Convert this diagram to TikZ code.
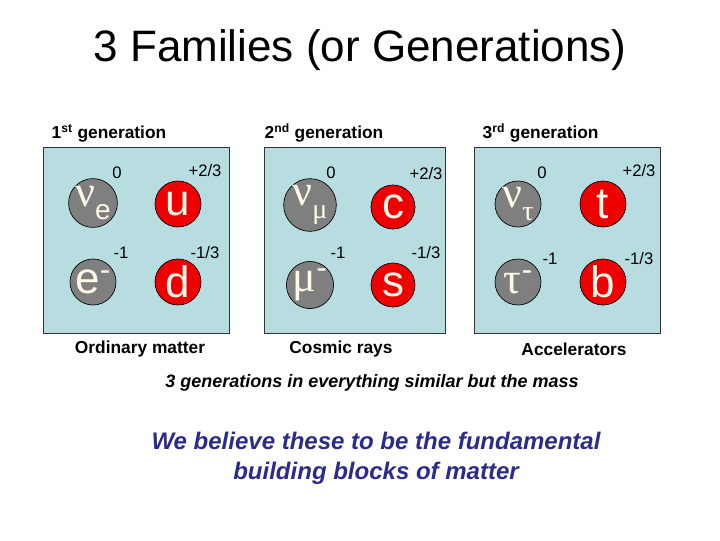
\documentclass[tikz,border=0pt]{standalone}
\usepackage{fontspec}
\setmainfont{Liberation Sans}
\newfontfamily\greekfont{Liberation Serif}
\usetikzlibrary{positioning}
\definecolor{panelblue}{HTML}{B8DDE1}
\definecolor{quarkred}{HTML}{EE0000}
\definecolor{leptongray}{HTML}{7F7F7F}
\definecolor{beliefblue}{HTML}{2B2B8A}
\definecolor{lettercream}{HTML}{FFF7E8}
\newcommand{\subidx}[1]{\raisebox{-10pt}{\fontsize{21}{21}\selectfont #1}}
\newcommand{\supneg}{\raisebox{10pt}{\fontsize{24}{24}\selectfont -}}

\begin{document}
\begin{tikzpicture}[
  x=0.75pt, y=-0.75pt,
  panel/.style={draw=black!80, fill=panelblue, line width=0.6pt,
                minimum width=140pt, minimum height=139.5pt, inner sep=0pt},
  ptcl/.style={circle, draw=black, line width=0.5pt, fill=#1,
               minimum size=34.5pt, inner sep=0pt, text=lettercream,
               font=\fontsize{33}{33}\selectfont},
  chg/.style={font=\fontsize{12.5}{14}\selectfont},
  gentitle/.style={font=\fontsize{13}{15}\selectfont\bfseries, anchor=west},
  source/.style={font=\fontsize{13}{15}\selectfont\bfseries},
]
\useasboundingbox (0,0) rectangle (720,540);

%% ===== TITLE =====
\node[font=\fontsize{33}{38}\selectfont] (title) at (360,50)
    {3 Families (or Generations)};

%% ===== PANELS =====
\node[panel] (gen1) at (136.5,240) {};
\node[panel, minimum width=135.75pt] (gen2) at (354.5,240) {};
\node[panel] (gen3) at (567.5,240.5) {};

\node[gentitle] (tit1) at (47,133)  {1\textsuperscript{st} generation};
\node[gentitle] (tit2) at (260,133) {2\textsuperscript{nd} generation};
\node[gentitle] (tit3) at (478,133) {3\textsuperscript{rd} generation};

%% ===== 1ST GENERATION =====
\node[ptcl=leptongray] (nue) at (93,203)  {{\greekfont ν}\subidx{e}};
\node[ptcl=quarkred]   (up)  at (178,204) {u};
\node[ptcl=leptongray] (ele) at (93,282)  {e\supneg};
\node[ptcl=quarkred]   (dn)  at (178,282) {d};

\node[chg] (q-nue) at (117,173) {0};
\node[chg] (q-up)  at (205,171) {+2/3};
\node[chg] (q-ele) at (121,253) {-1};
\node[chg] (q-dn)  at (205,253) {-1/3};

%% ===== 2ND GENERATION =====
\node[ptcl=leptongray, minimum size=33pt] (numu) at (310,205) {{\greekfont ν}\subidx{{\greekfont μ}}};
\node[ptcl=quarkred,   minimum size=33pt] (ch)   at (393,207) {c};
\node[ptcl=leptongray, minimum size=33pt] (muon) at (310,285) {{\greekfont μ}\supneg};
\node[ptcl=quarkred,   minimum size=33pt] (st)   at (393,285) {s};

\node[chg] (q-numu) at (331,173) {0};
\node[chg] (q-ch)   at (426,174) {+2/3};
\node[chg] (q-muon) at (338,253) {-1};
\node[chg] (q-st)   at (426,253) {-1/3};

%% ===== 3RD GENERATION =====
\node[ptcl=leptongray] (nutau) at (518,204) {{\greekfont ν}\subidx{{\greekfont τ}}};
\node[ptcl=quarkred]   (tp)    at (603,204) {t};
\node[ptcl=leptongray] (tau)   at (518,282) {{\greekfont τ}\supneg};
\node[ptcl=quarkred]   (bt)    at (603,282) {b};

\node[chg] (q-nutau) at (542,173) {0};
\node[chg] (q-tp)    at (639,171) {+2/3};
\node[chg] (q-tau)   at (550,259) {-1};
\node[chg] (q-bt)    at (639,259) {-1/3};

%% ===== SOURCES =====
\node[source] (src1) at (140,349) {Ordinary matter};
\node[source] (src2) at (341,349) {Cosmic rays};
\node[source] (src3) at (574,349) {Accelerators};

%% ===== REMARKS =====
\node[font=\fontsize{13.5}{16}\selectfont\bfseries\itshape] (mass) at (372,383)
    {3 generations in everything similar but the mass};
\node[font=\fontsize{18}{22.5}\selectfont\bfseries\itshape, text=beliefblue,
      align=center] (belief) at (376,458)
    {We believe these to be the fundamental\\building blocks of matter};

\end{tikzpicture}
\end{document}
